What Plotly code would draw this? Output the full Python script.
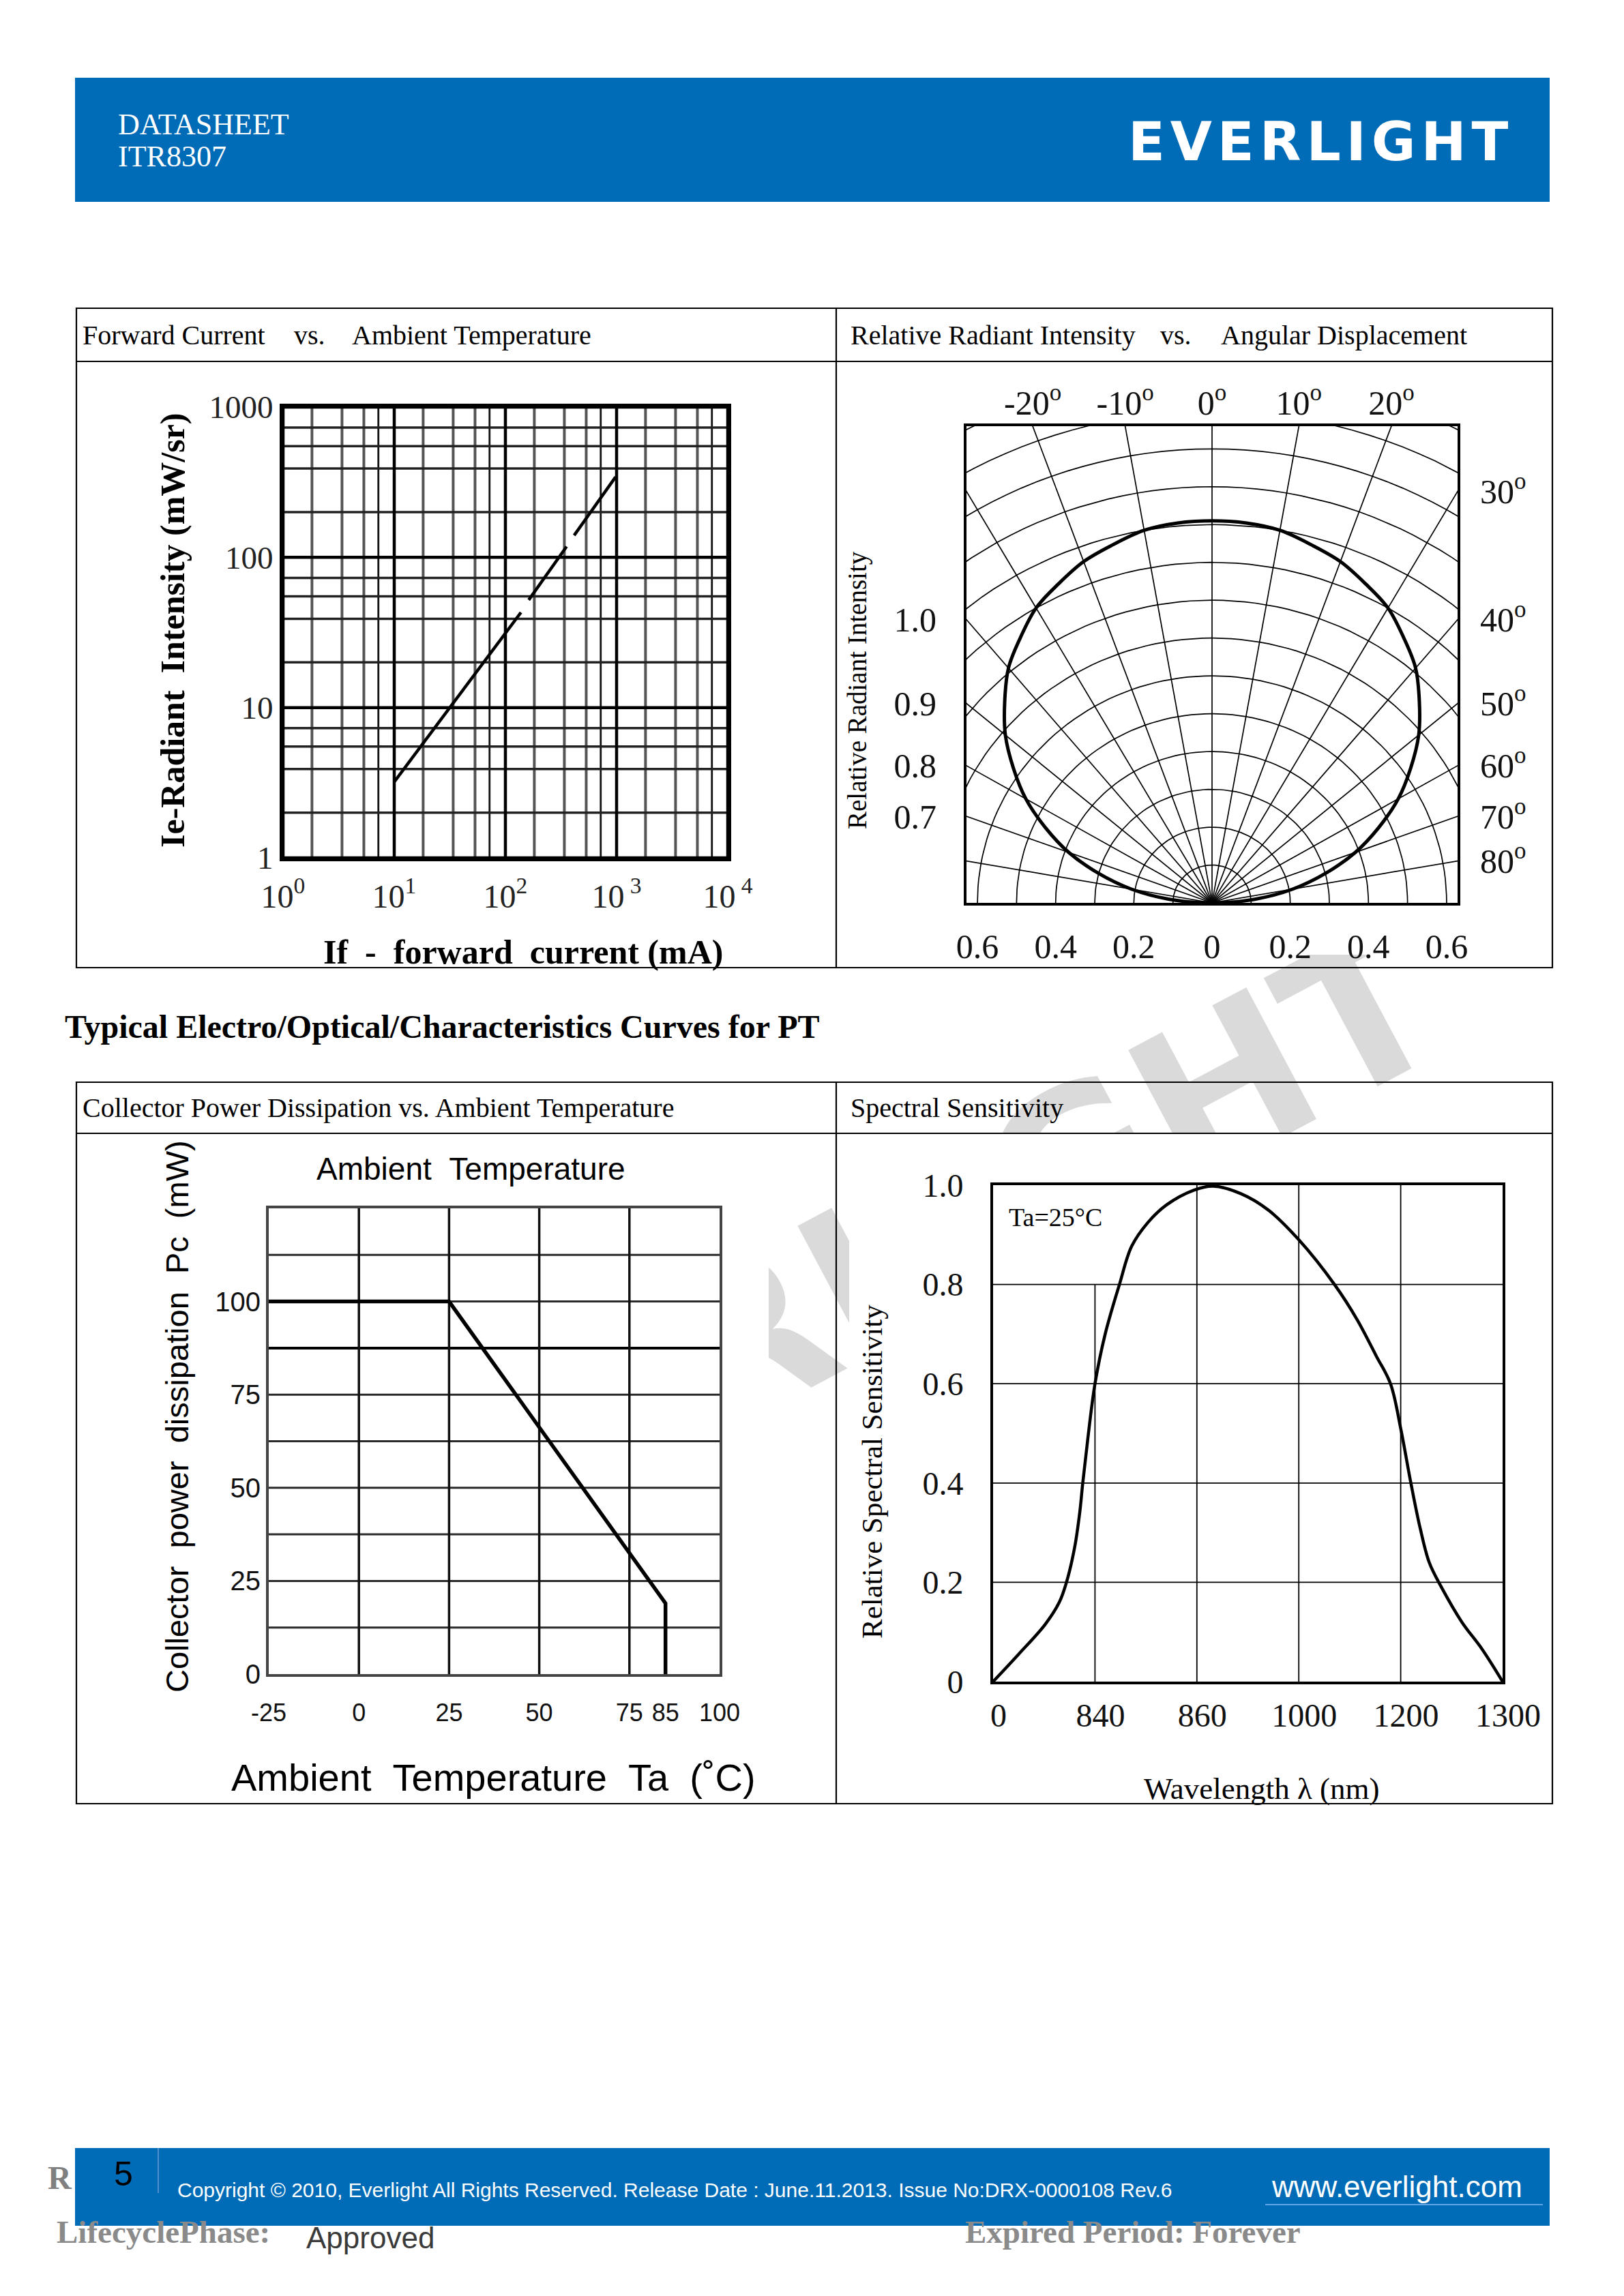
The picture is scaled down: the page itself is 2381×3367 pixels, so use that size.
import math
import plotly.graph_objects as go

W, H = 2381, 3367


def fx(x):
    return x / W


def fy(y):
    return 1 - y / H


SERIF = "Liberation Serif, Times New Roman, serif"
SANS = "Liberation Sans, Arial, sans-serif"
LOGO = "DejaVu Sans, Liberation Sans, sans-serif"
NB = "\u00a0"
HS = "\u200a"

# ---------------- data ----------------
# Panel 1 : Ie vs If (log-log), drawn as three dash segments
p1_if_ma = [10, 138, None, 162, 355, None, 415, 980]
p1_ie_mwsr = [3.2, 43, None, 52, 118, None, 140, 343]
p1_decades_x = [1, 10, 100, 1000, 10000]
p1_decades_y = [1, 10, 100, 1000]
p1_minor_x = [1.82, 3.39, 5.33]
p1_minor_x_dark = [7.2]
p1_minor_y = [2.0, 3.9, 5.5, 7.3]
p1_xticks = [1, 10, 100, 1000, 10000]
p1_xtick_text = ["10<sup>0</sup>", "10<sup>1</sup>", "10<sup>2</sup>", "10<sup> 3</sup>", "10<sup> 4</sup>"]
p1_yticks = [1, 10, 100, 1000]
p1_ytick_text = ["1", "10", "100", "1000"]

# Panel 2 : relative radiant intensity vs angle
pol_angle = [-90, -85, -80, -75, -70, -65, -60, -55, -50, -45, -40, -35, -30, -25, -20, -15, -10, -5,
             0, 5, 10, 15, 20, 25, 30, 35, 40, 45, 50, 55, 60, 65, 70, 75, 80, 85, 90]
pol_intensity = [0.0, 0.11, 0.21, 0.30, 0.39, 0.47, 0.55, 0.62, 0.69, 0.75, 0.81, 0.855, 0.90, 0.93, 0.96, 0.98, 1.0, 1.008,
                 1.01, 1.008, 1.0, 0.98, 0.96, 0.93, 0.90, 0.855, 0.81, 0.75, 0.69, 0.62, 0.55, 0.47, 0.39, 0.30, 0.21, 0.11, 0.0]
pol_grid_r = [0.1, 0.2, 0.3, 0.4, 0.5, 0.6, 0.7, 0.8, 0.9, 1.0, 1.1, 1.2, 1.3, 1.4]
pol_grid_angles = [-80, -70, -60, -50, -40, -30, -20, -10, 0, 10, 20, 30, 40, 50, 60, 70, 80]
pol_top_angles = [-20, -10, 0, 10, 20]
pol_top_text = ["-20<sup>o</sup>", "-10<sup>o</sup>", "0<sup>o</sup>", "10<sup>o</sup>", "20<sup>o</sup>"]
pol_right_angles = [30, 40, 50, 60, 70, 80]
pol_right_text = ["30<sup>o</sup>", "40<sup>o</sup>", "50<sup>o</sup>", "60<sup>o</sup>", "70<sup>o</sup>", "80<sup>o</sup>"]
pol_left_angles = [40, 50, 60, 70]
pol_left_text = ["1.0", "0.9", "0.8", "0.7"]
pol_bottom_vals = [-0.6, -0.4, -0.2, 0, 0.2, 0.4, 0.6]
pol_bottom_text = ["0.6", "0.4", "0.2", "0", "0.2", "0.4", "0.6"]
pol_xmax = 0.628
pol_ymax = 1.26

# Panel 3 : collector power dissipation vs ambient temperature
pc_ta = [-25, 25, 85, 85]
pc_mw = [100, 100, 19, 0]
p3_vgrid_dark = [0, 25, 50, 75]
p3_hgrid = [12.5, 25, 37.5, 50, 62.5, 75, 100, 112.5]
p3_hgrid_bold = [87.5]
p3_xticks = [-25, 0, 25, 50, 75, 85, 100]
p3_yticks = [0, 25, 50, 75, 100]

# Panel 4 : spectral sensitivity (x = grid position of the labelled wavelengths)
spec_pos = [0, 0.25, 0.51, 0.65, 0.72, 0.80, 0.85, 0.88, 0.93, 1.00, 1.10, 1.24, 1.36, 1.52, 1.70, 1.97,
            2.16, 2.43, 2.70, 3.00, 3.35, 3.57, 3.76, 3.90, 4.00, 4.10, 4.19, 4.28, 4.40, 4.60, 4.80, 5.00]
spec_val = [0, 0.055, 0.115, 0.16, 0.20, 0.27, 0.34, 0.40, 0.49, 0.60, 0.70, 0.80, 0.877, 0.925, 0.96, 0.99,
            0.998, 0.983, 0.95, 0.89, 0.80, 0.73, 0.656, 0.60, 0.51, 0.40, 0.31, 0.24, 0.19, 0.12, 0.065, 0.0]
spec_xticks = [0, 1, 2, 3, 4, 5]
spec_xtick_text = ["0", "840", "860", "1000", "1200", "1300"]
spec_yticks = [0, 0.2, 0.4, 0.6, 0.8, 1.0]
spec_ytick_text = ["0", "0.2", "0.4", "0.6", "0.8", "1.0"]
spec_vgrid_full = [2, 3, 4]
spec_vgrid_short = [1]
spec_vgrid_short_top = 0.8
spec_hgrid = [0.2, 0.4, 0.6, 0.8]

# ---------------- helpers ----------------
fig = go.Figure()


def vlines(xs, y0, y1):
    X, Y = [], []
    for v in xs:
        X += [v, v, None]
        Y += [y0, y1, None]
    return X, Y


def hlines(ys, x0, x1):
    X, Y = [], []
    for v in ys:
        X += [x0, x1, None]
        Y += [v, v, None]
    return X, Y


def add_line(X, Y, xa, ya, color="black", width=2, shape="linear"):
    fig.add_trace(go.Scatter(x=X, y=Y, mode="lines", xaxis=xa, yaxis=ya, hoverinfo="skip",
                             line=dict(color=color, width=width, shape=shape), showlegend=False))


# ---------------- panel 1 traces ----------------
minor_x = [d * m for d in p1_decades_x[:-1] for m in p1_minor_x]
minor_x_dark = [d * m for d in p1_decades_x[:-1] for m in p1_minor_x_dark]
minor_y = [d * m for d in p1_decades_y[:-1] for m in p1_minor_y]
X, Y = vlines(minor_x, 1, 1000); add_line(X, Y, "x", "y", "#555", 4)
X, Y = vlines(minor_x_dark, 1, 1000); add_line(X, Y, "x", "y", "#111", 2.8)
X, Y = hlines(minor_y, 1, 10000); add_line(X, Y, "x", "y", "#222", 3.5)
X, Y = vlines(p1_decades_x, 1, 1000); add_line(X, Y, "x", "y", "black", 4.5)
X, Y = hlines(p1_decades_y, 1, 10000); add_line(X, Y, "x", "y", "black", 4.5)
add_line(p1_if_ma, p1_ie_mwsr, "x", "y", "black", 4.5)

# ---------------- panel 2 traces ----------------
X, Y = [], []
for r in pol_grid_r:
    for a in range(-90, 91, 2):
        X.append(r * math.sin(math.radians(a)))
        Y.append(r * math.cos(math.radians(a)))
    X.append(None); Y.append(None)
add_line(X, Y, "x2", "y2", "black", 1.7)
X, Y = [], []
for a in pol_grid_angles:
    X += [0, 3 * math.sin(math.radians(a)), None]
    Y += [0, 3 * math.cos(math.radians(a)), None]
add_line(X, Y, "x2", "y2", "black", 1.7)
px_ = [r * math.sin(math.radians(a)) for a, r in zip(pol_angle, pol_intensity)]
py_ = [r * math.cos(math.radians(a)) for a, r in zip(pol_angle, pol_intensity)]
add_line(px_, py_, "x2", "y2", "black", 5, "spline")
fig.add_trace(go.Scatter(x=[0], y=[0], xaxis="x5", yaxis="y5", mode="markers",
                         marker=dict(opacity=0), hoverinfo="skip", showlegend=False))

# ---------------- panel 3 traces ----------------
X, Y = hlines(p3_hgrid, -25, 100); add_line(X, Y, "x3", "y3", "#2a2a2a", 3)
X, Y = hlines(p3_hgrid_bold, -25, 100); add_line(X, Y, "x3", "y3", "black", 4)
X, Y = vlines(p3_vgrid_dark, 0, 125); add_line(X, Y, "x3", "y3", "#111", 3.5)
add_line(pc_ta, pc_mw, "x3", "y3", "black", 5.5)

# ---------------- panel 4 traces ----------------
X, Y = hlines(spec_hgrid, 0, 5); add_line(X, Y, "x4", "y4", "black", 1.8)
X, Y = vlines(spec_vgrid_full, 0, 1); add_line(X, Y, "x4", "y4", "black", 1.8)
X, Y = vlines(spec_vgrid_short, 0, spec_vgrid_short_top); add_line(X, Y, "x4", "y4", "black", 1.8)
add_line(spec_pos, spec_val, "x4", "y4", "black", 4.5, "spline")


# ---------------- axes ----------------
def axis(domain, rng, **kw):
    d = dict(domain=domain, range=rng, showgrid=False, zeroline=False, showline=True, mirror=True,
             linecolor="black", linewidth=4, ticks="", fixedrange=True, tickmode="array", automargin=False)
    d.update(kw)
    return d


layout_axes = dict(
    xaxis=axis([fx(415), fx(1067)], [0, 4], type="log", anchor="y", linewidth=5,
               tickvals=p1_xticks, ticktext=p1_xtick_text, ticklabelstandoff=10,
               tickfont=dict(family=SERIF, size=48, color="#222")),
    yaxis=axis([fy(1258), fy(597)], [0, 3], type="log", anchor="x", linewidth=5,
               tickvals=p1_yticks, ticktext=p1_ytick_text, ticklabelstandoff=0,
               tickfont=dict(family=SERIF, size=47, color="#222")),
    xaxis2=axis([fx(1417), fx(2137)], [-pol_xmax, pol_xmax], anchor="y2",
                tickvals=pol_bottom_vals, ticktext=pol_bottom_text, ticklabelstandoff=17,
                tickfont=dict(family=SERIF, size=50, color="#111")),
    yaxis2=axis([fy(1324), fy(625)], [0, pol_ymax], anchor="x2",
                tickvals=[pol_xmax / math.tan(math.radians(a)) for a in pol_left_angles],
                ticktext=pol_left_text, ticklabelstandoff=30,
                tickfont=dict(family=SERIF, size=50, color="#111")),
    xaxis5=dict(overlaying="x2", side="top", anchor="y2", range=[-pol_xmax, pol_xmax], showgrid=False,
                zeroline=False, showline=False, ticks="", fixedrange=True, tickmode="array", automargin=False,
                tickvals=[pol_ymax * math.tan(math.radians(a)) for a in pol_top_angles],
                ticktext=pol_top_text, ticklabelstandoff=6,
                tickfont=dict(family=SERIF, size=50, color="#111")),
    yaxis5=dict(overlaying="y2", side="right", anchor="x2", range=[0, pol_ymax], showgrid=False,
                zeroline=False, showline=False, ticks="", fixedrange=True, tickmode="array", automargin=False,
                tickvals=[pol_xmax / math.tan(math.radians(a)) for a in pol_right_angles],
                ticktext=pol_right_text, ticklabelstandoff=32,
                tickfont=dict(family=SERIF, size=50, color="#111")),
    xaxis3=axis([fx(394), fx(1055)], [-25, 100], anchor="y3", linecolor="#444",
                tickvals=p3_xticks, ticktext=[str(v) for v in p3_xticks], ticklabelstandoff=22,
                tickfont=dict(family=SANS, size=36, color="#111")),
    yaxis3=axis([fy(2455), fy(1772)], [0, 125], anchor="x3", linecolor="#444",
                tickvals=p3_yticks, ticktext=[str(v) for v in p3_yticks], ticklabelstandoff=0,
                tickfont=dict(family=SANS, size=40, color="#111")),
    xaxis4=axis([fx(1456), fx(2203)], [0, 5], anchor="y4",
                tickvals=spec_xticks, ticktext=spec_xtick_text, ticklabelstandoff=4, ticklabelshift=8,
                tickfont=dict(family=SERIF, size=48, color="#111")),
    yaxis4=axis([fy(2466), fy(1738)], [0, 1], anchor="x4",
                tickvals=spec_yticks, ticktext=spec_ytick_text, ticklabelstandoff=30,
                tickfont=dict(family=SERIF, size=48, color="#111")),
)


# ---------------- annotations ----------------
def ann(text, x, y, size, family=SERIF, color="black", xanchor="left", yanchor="middle", angle=0):
    return dict(text=text, x=fx(x), y=fy(y), xref="paper", yref="paper", xanchor=xanchor,
                yanchor=yanchor, showarrow=False, textangle=angle,
                font=dict(family=family, size=size, color=color))


logo_text = HS.join("EVERLIGHT")

annotations = [
    ann("DATASHEET", 171, 182, 44, color="white"),
    ann("ITR8307", 171, 229, 44, color="white"),
    ann("<b>" + logo_text + "</b>", 1933, 208, 79, family=LOGO, color="white", xanchor="center"),
    ann("Forward Current", 119, 491, 40),
    ann("vs.", 429, 491, 40),
    ann("Ambient Temperature", 514, 491, 40),
    ann("Relative Radiant Intensity", 1245, 491, 40),
    ann("vs.", 1699, 491, 40),
    ann("Angular Displacement", 1788, 491, 40),
    ann("<b>Typical Electro/Optical/Characteristics Curves for PT</b>", 93, 1505, 48),
    ann("Collector Power Dissipation vs. Ambient Temperature", 119, 1624, 40),
    ann("Spectral Sensitivity", 1245, 1624, 40),
    # panel 1 titles
    ann("<b>Ie-Radiant" + NB * 2 + "Intensity (mW/sr)</b>", 253, 925, 50, xanchor="center", angle=-90),
    ann("<b>If" + NB * 2 + "-" + NB * 2 + "forward" + NB * 2 + "current (mA)</b>", 767, 1396, 50, xanchor="center"),
    # panel 2 title
    ann("Relative Radiant Intensity", 1257, 1012, 39, xanchor="center", angle=-90),
    # panel 3 titles
    ann("Ambient" + NB * 2 + "Temperature", 690, 1714, 46, family=SANS, xanchor="center"),
    ann("Collector" + NB * 2 + "power" + NB * 2 + "dissipation" + NB * 2 + "Pc" + NB * 2 + "(mW)", 259, 2077, 47,
        family=SANS, xanchor="center", angle=-90),
    ann("Ambient" + NB * 2 + "Temperature" + NB * 2 + "Ta" + NB * 2 + "(˚C)", 723, 2606, 56, family=SANS,
        xanchor="center"),
    # panel 4 titles
    ann("Relative Spectral Sensitivity", 1278, 2158, 43, xanchor="center", angle=-90),
    ann("Wavelength λ (nm)", 1850, 2623, 45, xanchor="center"),
    ann("Ta=25°C", 1477, 1785, 38),
    # footer
    ann("5", 181, 3188, 50, family=SANS, xanchor="center"),
    ann("Copyright © 2010, Everlight All Rights Reserved. Release Date : June.11.2013. Issue No:DRX-0000108 Rev.6",
        258, 3211, 30, family=SANS, color="white"),
    ann("www.everlight.com", 1862, 3206, 44, family=SANS, color="white"),
    ann("<b>R</b>", 108, 3193, 48, color="#808080", xanchor="right"),
    ann("<b>LifecyclePhase:</b>", 81, 3273, 47, color="#8a8a8a"),
    ann("Approved", 447, 3281, 44, family=SANS, color="#3a3a3a"),
    ann("<b>Expired Period: Forever</b>", 1413, 3273, 47, color="#8a8a8a"),
]


# ---------------- shapes ----------------
def rect(x0, y0, x1, y1, fill, line_w=0, line_c="black", layer="below"):
    return dict(type="rect", xref="paper", yref="paper", x0=fx(x0), x1=fx(x1), y0=fy(y1), y1=fy(y0),
                fillcolor=fill, line=dict(width=line_w, color=line_c), layer=layer)


def seg(x0, y0, x1, y1, color="black", width=2, layer="below"):
    return dict(type="line", xref="paper", yref="paper", x0=fx(x0), x1=fx(x1), y0=fy(y0), y1=fy(y1),
                line=dict(color=color, width=width), layer=layer)


TR = 2276   # table right edge
TD = 1226   # table column divider
wm_cx, wm_cy = 1247, 1862
shapes = [
    dict(type="rect", xref="paper", yref="paper", x0=fx(wm_cx - 1), x1=fx(wm_cx + 1), y0=fy(wm_cy + 1),
         y1=fy(wm_cy - 1), line=dict(width=0), fillcolor="rgba(0,0,0,0)", layer="below",
         label=dict(text="<b>EVERLIGHT</b>", textangle=-28, textposition="middle center", padding=0,
                    font=dict(family=LOGO, size=300, color="#dadada"))),
    rect(113, 531, TD - 1, 1418, "white"),
    rect(TD + 1, 531, TR - 1, 1400, "white"),
    rect(113, 1663, 1127, 2643, "white"),
    rect(1245, 1663, TR - 1, 2643, "white"),
    rect(110, 114, 2272, 296, "#006bb6"),
    rect(110, 3150, 2272, 3264, "#006bb6"),
    seg(232, 3150, 232, 3216, "#4f8fcf", 2),
    seg(1855, 3233, 2262, 3233, "#5fa5e6", 2),
    # tables
    rect(112, 452, TR, 1419, "rgba(0,0,0,0)", 2.2, "black"),
    seg(112, 530, TR, 530, "black", 2.2),
    seg(TD, 452, TD, 1419, "black", 2.2),
    rect(112, 1587, TR, 2645, "rgba(0,0,0,0)", 2.2, "black"),
    seg(112, 1662, TR, 1662, "black", 2.2),
    seg(TD, 1587, TD, 2645, "black", 2.2),
]

fig.update_layout(
    width=W, height=H, autosize=False,
    margin=dict(l=0, r=0, t=0, b=0, pad=0, autoexpand=False),
    paper_bgcolor="white", plot_bgcolor="white",
    showlegend=False,
    annotations=annotations,
    shapes=shapes,
    **layout_axes,
)

fig.write_html("out.html", config=dict(displayModeBar=False, staticPlot=True),
               post_script="document.body.style.margin='0px';document.body.style.overflow='hidden';")
